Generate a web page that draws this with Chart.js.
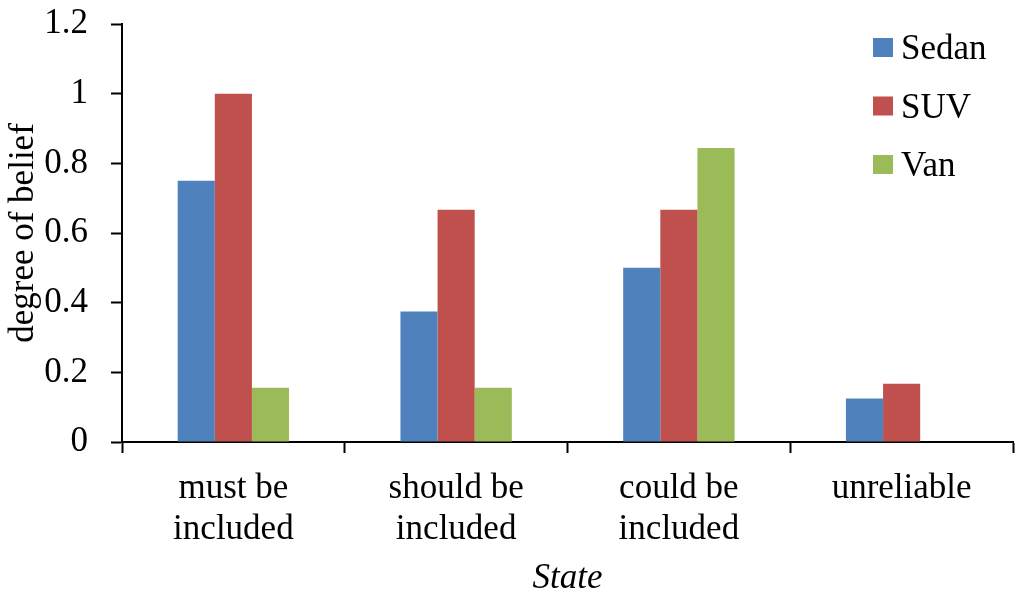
<!DOCTYPE html>
<html>
<head>
<meta charset="utf-8">
<script src="https://cdn.jsdelivr.net/npm/chart.js@4/dist/chart.umd.min.js"></script>
<style>
  body { margin: 0; background: #fff; }
  #grafico { display: block; }
</style>
</head>
<body>
<canvas id="grafico" width="1024" height="606"></canvas>
<script>
// datos
const estados = [["must be", "included"], ["should be", "included"], ["could be", "included"], "unreliable"];
const sedan = [0.75, 0.375, 0.5, 0.125];
const suv = [1.0, 0.667, 0.667, 0.167];
const van = [0.156, 0.156, 0.844, 0];
const nombresSeries = ["Sedan", "SUV", "Van"];
const coloresSeries = ["#4F81BD", "#C0504D", "#9BBB59"];
const ticksY = [0, 0.2, 0.4, 0.6, 0.8, 1, 1.2];

const fuente = "'Liberation Serif', 'Times New Roman', serif";

// leyenda dibujada dentro del area del grafico
const leyendaDentro = {
    id: 'leyendaDentro',
    afterDraw(chart) {
        const ctx = chart.ctx;
        ctx.save();
        ctx.font = "35px " + fuente;
        ctx.textBaseline = 'middle';
        chart.data.datasets.forEach((ds, i) => {
            let y = 48 + i * 58.5;
            ctx.fillStyle = ds.backgroundColor;
            ctx.fillRect(873, y - 10, 20, 19);
            ctx.fillStyle = '#000';
            ctx.fillText(ds.label, 901, y + 2);
        });
        ctx.restore();
    }
};

const series = [sedan, suv, van];
const datasets = series.map((valores, i) => ({
    label: nombresSeries[i],
    data: valores,
    backgroundColor: coloresSeries[i],
    borderWidth: 0,
    categoryPercentage: 0.5,
    barPercentage: 1.0
}));

const ctxGrafico = document.getElementById('grafico').getContext('2d');
const graficoNuevo = new Chart(ctxGrafico, {
    type: 'bar',
    data: {
        labels: estados,
        datasets: datasets
    },
    plugins: [leyendaDentro],
    options: {
        responsive: false,
        animation: false,
        devicePixelRatio: 1,
        layout: { padding: { top: 24, right: 11, left: 0, bottom: 0 } },
        plugins: {
            legend: { display: false },
            tooltip: { enabled: false }
        },
        scales: {
            x: {
                afterFit: (s) => { s.height = 164; s.paddingLeft = 0; s.paddingRight = 0; },
                border: { display: true, color: '#000', width: 2 },
                grid: {
                    display: true,
                    drawOnChartArea: false,
                    drawTicks: true,
                    tickLength: 11,
                    tickWidth: 2,
                    tickColor: '#000',
                    offset: true
                },
                ticks: {
                    color: '#000',
                    padding: 16,
                    maxRotation: 0,
                    autoSkip: false,
                    font: { family: fuente, size: 35, lineHeight: 1.15 }
                },
                title: {
                    display: true,
                    text: 'State',
                    color: '#000',
                    padding: { top: 0, bottom: 6 },
                    font: { family: fuente, size: 35, style: 'italic' }
                }
            },
            y: {
                min: 0,
                max: 1.2,
                afterFit: (s) => { s.width = 122; s.paddingTop = 0; s.paddingBottom = 0; },
                afterBuildTicks: (s) => { s.ticks = ticksY.map(v => ({ value: v })); },
                border: { display: true, color: '#000', width: 2 },
                grid: {
                    display: true,
                    drawOnChartArea: false,
                    drawTicks: true,
                    tickLength: 11,
                    tickWidth: 2,
                    tickColor: '#000'
                },
                ticks: {
                    color: '#000',
                    padding: 23,
                    font: { family: fuente, size: 35 },
                    callback: (v) => String(Math.round(v * 10) / 10)
                },
                title: {
                    display: true,
                    text: 'degree of belief',
                    color: '#000',
                    padding: { top: 3, bottom: 0 },
                    font: { family: fuente, size: 35 }
                }
            }
        }
    }
});
</script>
</body>
</html>
